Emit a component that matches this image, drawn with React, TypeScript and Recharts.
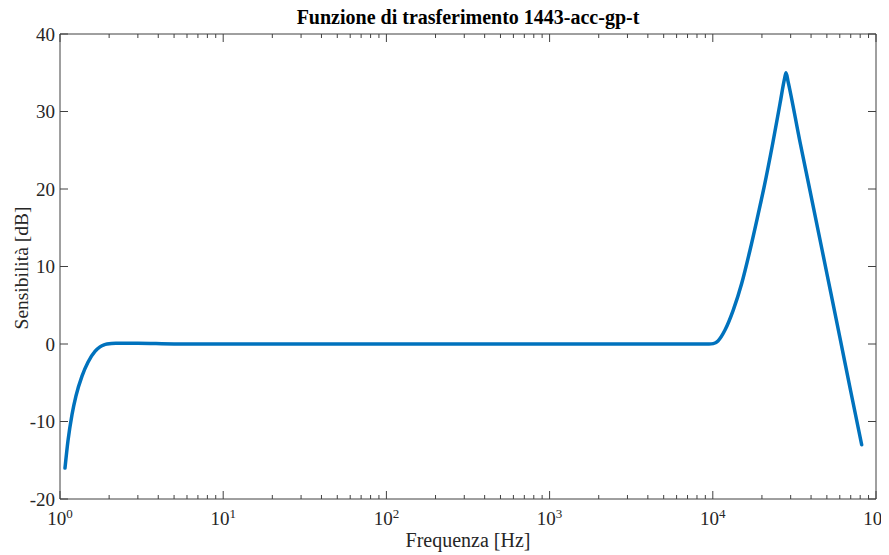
import React from 'react';
import { LineChart, Line, XAxis, YAxis } from 'recharts';

// Frequency [Hz] and sensitivity [dB]
const freqs = [
  1.073, 1.119, 1.185, 1.253, 1.364, 1.484, 1.638, 1.758, 1.861, 1.941, 2.2, 3, 5, 10, 100, 1000,
  5000, 9500, 10070, 10760, 11880, 13360, 15030, 16900, 18940, 20600, 23300, 25800, 27500, 28100,
  28900, 34200, 39400, 50000, 60000, 70000, 81700,
];
const sens = [
  -16, -12.5, -9.1, -6.7, -4.15, -2.35, -0.95, -0.37, -0.1, 0, 0.1, 0.1, 0, 0, 0, 0,
  0, 0, 0.05, 0.4, 1.8, 4.4, 7.8, 12.1, 16.7, 20.2, 25.9, 31, 34.2, 35,
  33.9, 26.1, 19.8, 9.1, 0.9, -6.1, -13,
];

const majorTicksX = [1, 10, 100, 1000, 10000, 100000];
const exponentLabels = ['0', '1', '2', '3', '4', '5'];
const minorTicksX = [
  2, 3, 4, 5, 6, 7, 8, 9,
  20, 30, 40, 50, 60, 70, 80, 90,
  200, 300, 400, 500, 600, 700, 800, 900,
  2000, 3000, 4000, 5000, 6000, 7000, 8000, 9000,
  20000, 30000, 40000, 50000, 60000, 70000, 80000, 90000,
];
const yTicks = [-20, -10, 0, 10, 20, 30, 40];

const titleText = 'Funzione di trasferimento 1443-acc-gp-t';
const xLabelText = 'Frequenza [Hz]';
const yLabelText = 'Sensibilità [dB]';

const data = freqs.map((f, i) => ({ f, db: sens[i] }));
const allTicksX = [...majorTicksX, ...minorTicksX].sort((a, b) => a - b);

const FONT = '"Liberation Serif", "Times New Roman", serif';
const AXIS = '#404040';
const TEXT = '#262626';
const W = 881;
const H = 547;

const BottomTick = (props: any) => {
  const { x, y, payload } = props;
  const idx = majorTicksX.indexOf(payload.value);
  const len = idx >= 0 ? 8 : 4;
  return (
    <g>
      <line x1={x} y1={y} x2={x} y2={y - len} stroke={AXIS} strokeWidth={1} />
      {idx >= 0 && (
        <text x={x} y={y + 26} textAnchor="middle" fontFamily={FONT} fontSize={19} fill={TEXT}>
          10
          <tspan fontSize={13} dy={-7}>
            {exponentLabels[idx]}
          </tspan>
        </text>
      )}
    </g>
  );
};

const TopTick = (props: any) => {
  const { x, y, payload } = props;
  const len = majorTicksX.indexOf(payload.value) >= 0 ? 8 : 4;
  return (
    <g>
      <line x1={x} y1={y} x2={x} y2={y + len} stroke={AXIS} strokeWidth={1} />
    </g>
  );
};

const LeftTick = (props: any) => {
  const { x, y, payload } = props;
  return (
    <g>
      <line x1={x} y1={y} x2={x + 8} y2={y} stroke={AXIS} strokeWidth={1} />
      <text x={x - 5} y={y + 6.5} textAnchor="end" fontFamily={FONT} fontSize={19} fill={TEXT}>
        {payload.value}
      </text>
    </g>
  );
};

const RightTick = (props: any) => {
  const { x, y } = props;
  return (
    <g>
      <line x1={x} y1={y} x2={x - 8} y2={y} stroke={AXIS} strokeWidth={1} />
    </g>
  );
};

export default function App() {
  return (
    <div style={{ position: 'relative', width: W, height: H }}>
      <LineChart width={W} height={H} data={data} margin={{ top: 25, right: 12, bottom: 8, left: 0 }}>
        <XAxis
          xAxisId="bottom"
          dataKey="f"
          type="number"
          scale="log"
          domain={[1, 100000]}
          allowDataOverflow
          ticks={allTicksX}
          interval={0}
          height={48}
          tickSize={0}
          tickMargin={0}
          tickLine={false}
          axisLine={{ stroke: AXIS, strokeWidth: 1 }}
          tick={BottomTick}
        />
        <XAxis
          xAxisId="top"
          orientation="top"
          dataKey="f"
          type="number"
          scale="log"
          domain={[1, 100000]}
          allowDataOverflow
          ticks={allTicksX}
          interval={0}
          height={1}
          tickSize={0}
          tickMargin={0}
          tickLine={false}
          axisLine={{ stroke: AXIS, strokeWidth: 1 }}
          tick={TopTick}
        />
        <YAxis
          yAxisId="left"
          type="number"
          domain={[-20, 40]}
          allowDataOverflow
          ticks={yTicks}
          interval={0}
          width={52}
          tickSize={0}
          tickMargin={0}
          tickLine={false}
          axisLine={{ stroke: AXIS, strokeWidth: 1 }}
          tick={LeftTick}
        />
        <YAxis
          yAxisId="right"
          orientation="right"
          type="number"
          domain={[-20, 40]}
          allowDataOverflow
          ticks={yTicks}
          interval={0}
          width={1}
          tickSize={0}
          tickMargin={0}
          tickLine={false}
          axisLine={{ stroke: AXIS, strokeWidth: 1 }}
          tick={RightTick}
        />
        <Line
          xAxisId="top"
          yAxisId="right"
          dataKey="db"
          type="linear"
          stroke="none"
          dot={false}
          activeDot={false}
          legendType="none"
          isAnimationActive={false}
        />
        <Line
          xAxisId="bottom"
          yAxisId="left"
          dataKey="db"
          type="monotone"
          stroke="#0072BD"
          strokeWidth={3.5}
          strokeLinejoin="round"
          strokeLinecap="round"
          dot={false}
          activeDot={false}
          isAnimationActive={false}
        />
      </LineChart>
      <svg
        width={W}
        height={H}
        style={{ position: 'absolute', left: 0, top: 0, overflow: 'visible', pointerEvents: 'none' }}
      >
        <text x={460} y={15.5} textAnchor="middle" fontFamily={FONT} fontWeight="bold" fontSize={20} fill="#000">
          {titleText}
        </text>
        <text x={460} y={538.5} textAnchor="middle" fontFamily={FONT} fontSize={20} fill={TEXT}>
          {xLabelText}
        </text>
        <text
          transform="translate(19.5,260) rotate(-90)"
          textAnchor="middle"
          fontFamily={FONT}
          fontSize={19.5}
          fill={TEXT}
        >
          {yLabelText}
        </text>
      </svg>
    </div>
  );
}
